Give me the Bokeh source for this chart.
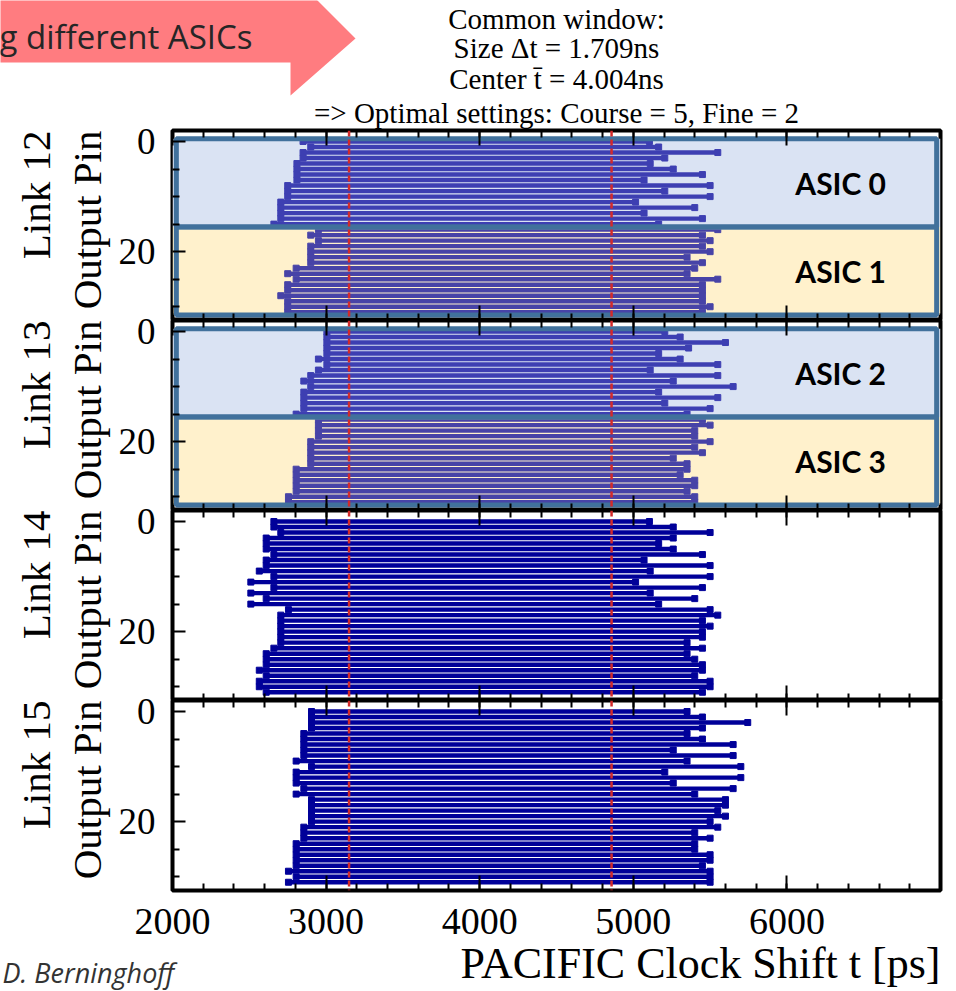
import numpy as np
from bokeh.plotting import figure
from bokeh.layouts import column
from bokeh.models import (Range1d, FixedTicker, LinearAxis, Span, Title, ColumnDataSource)
from bokeh.core.properties import value
from bokeh.embed import file_html
from bokeh.resources import INLINE

# ---------------- data ----------------
link_names = ["Link 12", "Link 13", "Link 14", "Link 15"]
pins = list(range(32))

link12_start = [2850, 2900, 2850, 2850, 2810, 2810, 2810, 2810, 2750, 2750, 2750, 2705, 2705, 2705, 2705, 2660,
                2950, 2900, 2950, 2900, 2900, 2900, 2900, 2805, 2750, 2805, 2750, 2750, 2705, 2750, 2750, 2750]
link12_end = [5105, 5165, 5550, 5205, 5110, 5260, 5450, 5070, 5500, 5205, 5500, 5015, 5400, 5070, 5450, 5165,
              5550, 5450, 5500, 5450, 5500, 5350, 5450, 5400, 5350, 5550, 5450, 5450, 5450, 5450, 5500, 5450]

link13_start = [3005, 3005, 3005, 3005, 3005, 2950, 3005, 2950, 2900, 2855, 2900, 2855, 2855, 2855, 2855, 2805,
                2950, 2950, 2950, 2950, 2900, 2900, 2900, 2900, 2900, 2805, 2805, 2805, 2805, 2805, 2755, 2755]
link13_end = [5205, 5305, 5600, 5360, 5165, 5305, 5550, 5110, 5550, 5260, 5650, 5165, 5550, 5205, 5500, 5350,
              5450, 5500, 5400, 5400, 5500, 5400, 5450, 5260, 5350, 5350, 5305, 5400, 5400, 5350, 5400, 5400]

link14_start = [2660, 2660, 2705, 2610, 2610, 2610, 2660, 2610, 2610, 2565, 2660, 2510, 2660, 2510, 2610, 2510,
                2755, 2705, 2705, 2705, 2705, 2705, 2705, 2660, 2610, 2610, 2610, 2565, 2610, 2565, 2565, 2610]
link14_end = [5105, 5260, 5500, 5260, 5165, 5260, 5450, 5070, 5500, 5110, 5500, 5015, 5450, 5110, 5400, 5165,
              5500, 5550, 5450, 5500, 5450, 5450, 5350, 5450, 5350, 5400, 5450, 5450, 5400, 5500, 5500, 5450]

link15_start = [2905, 2905, 2905, 2905, 2855, 2855, 2855, 2855, 2855, 2805, 2905, 2805, 2805, 2805, 2855, 2805,
                2905, 2905, 2905, 2905, 2905, 2855, 2855, 2855, 2805, 2805, 2805, 2805, 2805, 2755, 2805, 2755]
link15_end = [5350, 5450, 5745, 5450, 5350, 5450, 5650, 5260, 5650, 5350, 5700, 5205, 5700, 5260, 5650, 5400,
              5600, 5600, 5550, 5600, 5500, 5550, 5400, 5500, 5400, 5400, 5500, 5500, 5450, 5500, 5500, 5500]

starts = [link12_start, link13_start, link14_start, link15_start]
ends = [link12_end, link13_end, link14_end, link15_end]

window_center_ns = 4.004
window_size_ns = 1.709
course_setting = 5
fine_setting = 2

asic_labels = [["ASIC 0", "ASIC 1"], ["ASIC 2", "ASIC 3"], [], []]
asic_pin_first = [0, 16]
asic_pin_last = [15, 31]
asic_fill = ["#dae3f3", "#fff2cc"]

x_tick_values = [2000, 3000, 4000, 5000, 6000]
x_minor_values = list(range(2000, 7001, 200))
y_tick_values = [0, 20]
y_minor_values = [5, 10, 15, 25, 30]

header_text = "g different ASICs"
footer_text = "D. Berninghoff"
x_label = "PACIFIC Clock Shift t [ps]"

# ---------------- layout constants ----------------
W = 956
FRAME_L = 172
FRAME_R = 16
FRAME_W = W - FRAME_L - FRAME_R
HEADER_H = 130
PANEL_H = 190
TOP_PAD = 16
BOTTOM_H = 101
FOOTER_H = 40
SERIF = "Liberation Serif"
BAR_COLOR = "#000099"

win_lo = (window_center_ns - window_size_ns / 2) * 1000
win_hi = (window_center_ns + window_size_ns / 2) * 1000

xr = Range1d(2000, 7000)

# ---------------- header ----------------
hdr = figure(width=W, height=HEADER_H, x_range=Range1d(0, W), y_range=Range1d(HEADER_H, 0),
             x_axis_location=None, y_axis_location=None, toolbar_location=None,
             output_backend="svg", min_border=0, outline_line_color=None)
hdr.frame_align = False
hdr.grid.visible = False
ARROW_X = [-5, 312, 355, 290, 290, -5]
ARROW_Y = [-5, -5, 38, 95, 62, 62]
hdr.patch(ARROW_X, ARROW_Y, fill_color="#ff7c80", line_color=None)
hdr.text(x=[-1], y=[36], text=[header_text], text_align="left", text_baseline="middle",
         text_font=value("Open Sans"), text_font_size="33px", text_color="#262626")
title_lines = ["Common window:",
               f"Size \u0394t = {window_size_ns:.3f}ns",
               f"Center t\u0304 = {window_center_ns:.3f}ns",
               f"=> Optimal settings: Course = {course_setting}, Fine = {fine_setting}"]
hdr.text(x=[FRAME_L + FRAME_W / 2] * 4, y=[18, 47, 78, 112], text=title_lines,
         text_align="center", text_baseline="middle", text_font=value(SERIF),
         text_font_size="29px", text_color="black")


def style_x(ax, show_labels):
    ax.ticker = FixedTicker(ticks=x_tick_values, minor_ticks=x_minor_values)
    ax.major_tick_in = 15
    ax.major_tick_out = 0
    ax.minor_tick_in = 7
    ax.minor_tick_out = 0
    ax.major_tick_line_width = 2
    ax.minor_tick_line_width = 2
    ax.axis_line_color = None
    if show_labels:
        ax.major_label_text_font = SERIF
        ax.major_label_text_font_size = "38px"
        ax.major_label_text_color = "black"
        ax.major_label_standoff = 18
    else:
        ax.major_label_text_font_size = "0px"
        ax.major_label_text_alpha = 0
        ax.major_label_text_color = None
        ax.major_label_standoff = 0


panels = []
for i in range(4):
    last = i == 3
    p = figure(frame_width=FRAME_W, frame_height=PANEL_H, x_range=xr, y_range=Range1d(32.5, -2),
               min_border_left=FRAME_L, min_border_right=FRAME_R,
               min_border_top=TOP_PAD, min_border_bottom=BOTTOM_H if last else 0,
               toolbar_location=None, output_backend="svg")
    p.margin = (-TOP_PAD, 0, 0, 0)
    p.border_fill_color = None
    p.grid.visible = False
    p.outline_line_color = "black"
    p.outline_line_width = 4

    style_x(p.xaxis[0], last)
    top_ax = LinearAxis()
    style_x(top_ax, False)
    p.add_layout(top_ax, "above")

    ya = p.yaxis[0]
    ya.ticker = FixedTicker(ticks=y_tick_values, minor_ticks=y_minor_values)
    ya.major_tick_in = 13
    ya.major_tick_out = 0
    ya.minor_tick_in = 7
    ya.minor_tick_out = 0
    ya.major_tick_line_width = 2
    ya.minor_tick_line_width = 2
    ya.axis_line_color = None
    ya.major_label_text_font = SERIF
    ya.major_label_text_font_size = "37px"
    ya.major_label_text_color = "black"
    ya.major_label_standoff = 17

    p.add_layout(Title(text="Output Pin", align="right", text_font=SERIF, text_font_size="41px",
                       text_font_style="normal", text_color="black", standoff=12), "left")
    p.add_layout(Title(text=link_names[i], align="right", text_font=SERIF, text_font_size="41px",
                       text_font_style="normal", text_color="black", standoff=-6), "left")

    src = ColumnDataSource(dict(pin=pins, start=starts[i], end=ends[i]))

    labels = asic_labels[i]
    if labels:
        tops = [f - 0.5 for f in asic_pin_first]
        bots = [l + 0.5 for l in asic_pin_last]
        p.quad(left=xr.start, right=xr.end, top=tops, bottom=bots, fill_color=asic_fill,
               line_color=None)

    p.segment(x0="start", y0="pin", x1="end", y1="pin", source=src, line_color=BAR_COLOR,
              line_width=4.4)
    p.scatter(x="start", y="pin", source=src, marker="square", size=6, fill_color=BAR_COLOR,
              line_color=BAR_COLOR)
    p.scatter(x="end", y="pin", source=src, marker="square", size=6, fill_color=BAR_COLOR,
              line_color=BAR_COLOR)

    if labels:
        p.quad(left=xr.start + 25, right=xr.end - 25, top=tops, bottom=bots, fill_color=asic_fill,
               fill_alpha=0.28, line_color="#41719c", line_width=5)
        mids = [(f + l) / 2 for f, l in zip(asic_pin_first, asic_pin_last)]
        p.text(x=[6350] * len(labels), y=mids, text=labels, text_align="center",
               text_baseline="middle", text_font=value("Lato"), text_font_style="bold",
               text_font_size="30px", text_color="black")

    for loc in (win_lo, win_hi):
        p.add_layout(Span(location=loc, dimension="height", line_color="#d42a2a",
                          line_width=2.5, line_dash="6 3"))

    if last:
        p.add_layout(Title(text=x_label, align="right", text_font=SERIF, text_font_size="44px",
                           text_font_style="normal", text_color="black", standoff=0), "below")
    panels.append(p)

# ---------------- footer (overlaps the bottom band, transparent) ----------------
ftr = figure(width=W, height=FOOTER_H, x_range=Range1d(0, W), y_range=Range1d(FOOTER_H, 0),
             x_axis_location=None, y_axis_location=None, toolbar_location=None,
             output_backend="svg", min_border=0, outline_line_color=None)
ftr.frame_align = False
ftr.margin = (-FOOTER_H, 0, 0, 0)
ftr.background_fill_color = None
ftr.border_fill_color = None
ftr.grid.visible = False
ftr.text(x=[2], y=[FOOTER_H - 1], text=[footer_text], text_align="left", text_baseline="bottom",
         text_font=value("Open Sans"), text_font_style="italic", text_font_size="27px",
         text_color="#333333")

layout = column(hdr, *panels, ftr, spacing=0)
open("out.html", "w").write(file_html(layout, INLINE))
